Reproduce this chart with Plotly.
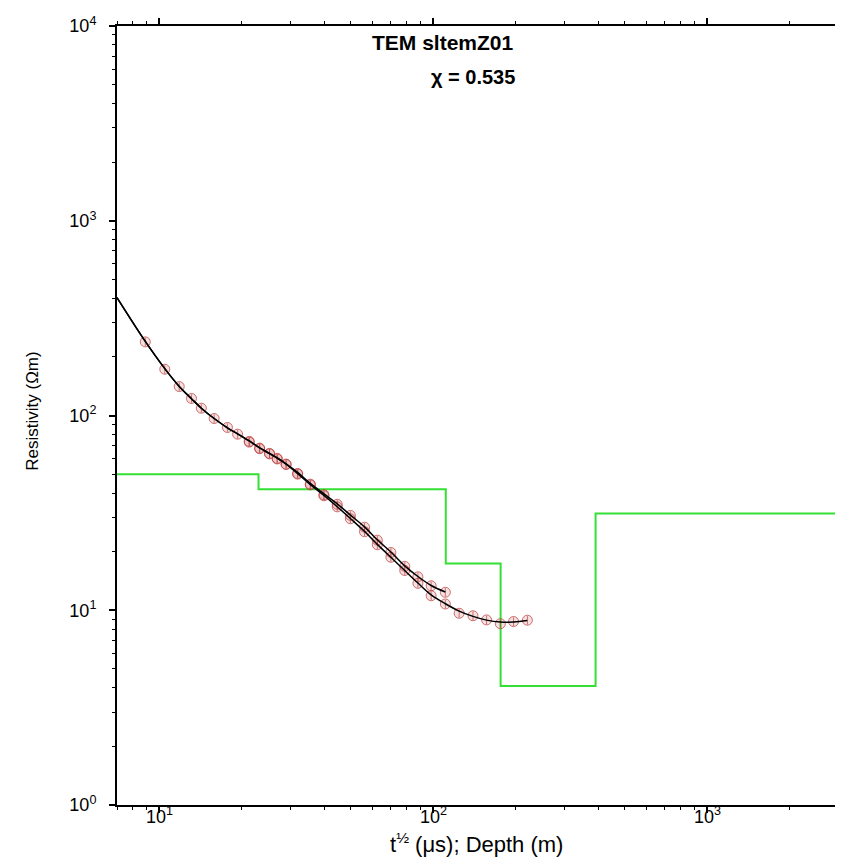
import numpy as np
import plotly.graph_objects as go

# ---- data ----
# series A (earlier gates, upper branch)
a_x = [8.88, 10.46, 11.81, 13.09, 14.22, 15.84, 17.71, 19.29, 21.27, 23.22, 25.23, 26.91,
       29.0, 31.96, 35.55, 39.86, 44.57, 49.77, 56.07, 62.44, 69.98, 78.62, 87.82, 98.15, 110.6]
a_y = [238.8, 172.8, 140.8, 122.3, 109.0, 96.5, 86.8, 80.2, 73.6, 68.0, 63.9, 60.2,
       56.3, 50.4, 44.4, 39.2, 35.0, 30.7, 26.7, 22.9, 19.8, 16.8, 14.85, 13.35, 12.37]
# series B (later gates, lower branch)
b_x = [21.27, 23.22, 25.23, 26.91, 29.0, 31.96, 35.55, 39.86, 44.57, 49.77, 56.07, 62.44,
       69.98, 78.62, 87.82, 98.15, 110.6, 124.2, 139.5, 156.4, 175.6, 196.2, 220.4]
b_y = [73.0, 67.5, 63.5, 59.8, 56.0, 50.0, 44.0, 38.7, 33.96, 29.5, 25.3, 21.7,
       18.7, 16.0, 13.75, 11.87, 10.77, 9.65, 9.37, 8.92, 8.53, 8.75, 8.89]

# model responses (black curves)
ma_x = [7, 8.88, 10.46, 11.81, 13.09, 14.22, 15.84, 17.71, 19.29, 21.27, 23.22, 25.23, 26.91,
        29.0, 31.96, 35.55, 39.86, 44.57, 49.77, 56.07, 62.44, 69.98, 78.62, 87.82, 98.15, 110.6]
ma_y = [403, 240, 174, 141, 122, 109, 96.5, 86.5, 80.5, 74, 68.2, 63.8, 60.5,
        56.5, 51, 44.8, 39.6, 35.2, 30.8, 26.8, 23.0, 19.9, 16.9, 14.9, 13.4, 12.4]
mb_x = [7, 8.88, 10.46, 11.81, 13.09, 14.22, 15.84, 17.71, 19.29, 21.27, 23.22, 25.23, 26.91,
        29.0, 31.96, 35.55, 39.86, 44.57, 49.77, 56.07, 62.44, 69.98, 78.62, 87.82, 98.15,
        110.6, 124.2, 139.5, 156.4, 175.6, 196.2, 220.4]
mb_y = [403, 240, 174, 141, 122, 109, 96.5, 86.5, 80.5, 74, 68.2, 63.8, 60.5,
        56.3, 50.3, 44.2, 38.9, 34.0, 29.6, 25.4, 21.8, 18.7, 16.0, 13.8, 12.0,
        10.8, 9.9, 9.3, 8.9, 8.7, 8.7, 8.85]

# layered resistivity model (green)
layer_top_depth = [1, 23, 111, 176, 391]
layer_rho = [50, 41.8, 17.4, 4.08, 31.4]
model_end_depth = 10000

title_text = "TEM sltemZ01"
chi_text = "χ = 0.535"
x_tickvals = [10, 100, 1000]
x_ticktext = ["10<sup>1</sup>", "10<sup>2</sup>", "10<sup>3</sup>"]
y_tickvals = [1, 10, 100, 1000, 10000]
y_ticktext = ["10<sup>0</sup>", "10<sup>1</sup>", "10<sup>2</sup>", "10<sup>3</sup>", "10<sup>4</sup>"]

FONT = "Liberation Sans, Arial, Helvetica, sans-serif"

fig = go.Figure()

# green step model
gx = layer_top_depth + [model_end_depth]
gy = layer_rho + [layer_rho[-1]]
fig.add_trace(go.Scatter(x=gx, y=gy, mode="lines", line=dict(color="#35e035", width=2, shape="hv"),
                         hoverinfo="skip"))

marker_style = dict(symbol="circle", size=10, color="rgba(215,120,120,0.22)",
                    line=dict(color="rgba(185,55,55,0.7)", width=1))
err = dict(type="percent", value=5, color="rgba(170,50,50,0.7)", thickness=1, width=0)

fig.add_trace(go.Scatter(x=a_x, y=a_y, mode="markers", marker=marker_style, error_y=err))
fig.add_trace(go.Scatter(x=b_x, y=b_y, mode="markers", marker=marker_style, error_y=err))

fig.add_trace(go.Scatter(x=ma_x, y=ma_y, mode="lines", line=dict(color="black", width=1.5, shape="spline")))
fig.add_trace(go.Scatter(x=mb_x, y=mb_y, mode="lines", line=dict(color="black", width=1.5, shape="spline")))

x_minor = [m * 10 ** k for k in range(0, 4) for m in range(2, 10)]
y_minor = [m * 10 ** k for k in range(0, 4) for m in range(2, 10)]

common = dict(ticks="outside", ticklen=6, tickwidth=1.5, tickcolor="black",
              showline=True, linewidth=2, linecolor="black", mirror="ticks",
              showgrid=False, zeroline=False)

fig.update_xaxes(type="log", range=[np.log10(7), np.log10(3000)],
                 tickmode="array", tickvals=x_tickvals, showticklabels=False,
                 minor=dict(tickmode="array", tickvals=x_minor, ticks="outside", ticklen=3,
                            tickwidth=1, tickcolor="black", showgrid=False),
                 **common)
fig.update_yaxes(type="log", range=[0, 4],
                 tickmode="array", tickvals=y_tickvals, ticktext=y_ticktext,
                 tickfont=dict(family=FONT, size=18, color="black"),
                 minor=dict(tickmode="array", tickvals=y_minor, ticks="outside", ticklen=3,
                            tickwidth=1, tickcolor="black", showgrid=False),
                 ticklabelstandoff=9,
                 **common)

annotations = [
    dict(text="<b>" + title_text + "</b>", x=0.4527, y=0.9786, xref="paper", yref="paper",
         showarrow=False, font=dict(size=21, family=FONT), xanchor="center", yanchor="middle"),
    dict(text="<b>" + chi_text + "</b>", x=0.494, y=0.9345, xref="paper", yref="paper",
         showarrow=False, font=dict(size=20, family=FONT), xanchor="center", yanchor="middle"),
    dict(text="Resistivity (Ωm)", x=-0.1166, y=0.506, xref="paper", yref="paper",
         textangle=-90, showarrow=False, font=dict(size=17, family=FONT),
         xanchor="center", yanchor="middle"),
    dict(text="t<sup>½</sup> (μs); Depth (m)", x=0.498, y=-0.0488, xref="paper", yref="paper",
         showarrow=False, font=dict(size=22, family=FONT), xanchor="center", yanchor="middle"),
]
# x tick labels placed just below the axis
for v, t in zip(x_tickvals, x_ticktext):
    annotations.append(dict(text=t, x=np.log10(v), y=-0.0141, xref="x", yref="paper",
                            showarrow=False, font=dict(size=18, family=FONT),
                            xanchor="center", yanchor="middle"))

fig.update_layout(
    width=843, height=858,
    margin=dict(l=109, r=5, t=18, b=61),
    paper_bgcolor="white", plot_bgcolor="white",
    showlegend=False,
    font=dict(family=FONT, color="black"),
    annotations=annotations,
)

fig.write_html("out.html")
